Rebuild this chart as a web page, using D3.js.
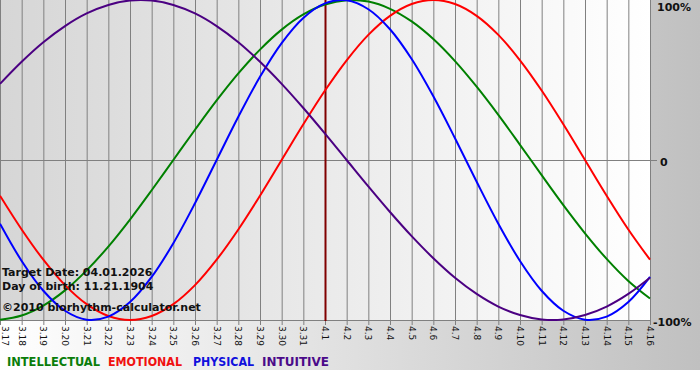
<!DOCTYPE html>
<html><head><meta charset="utf-8">
<script src="https://cdn.jsdelivr.net/npm/d3@7"></script>
<style>body{margin:0;background:#fff}svg{display:block}</style>
</head><body>
<svg id="c" width="700" height="380"></svg>
<script>
const days = ["3.17","3.18","3.19","3.20","3.21","3.22","3.23","3.24","3.25","3.26","3.27","3.28","3.29","3.30","3.31","4.1","4.2","4.3","4.4","4.5","4.6","4.7","4.8","4.9","4.10","4.11","4.12","4.13","4.14","4.15","4.16"];
const intellectual = [-0.999,-0.972,-0.910,-0.815,-0.690,-0.541,-0.372,-0.189,0,0.189,0.372,0.541,0.690,0.815,0.910,0.972,0.999,0.990,0.945,0.866,0.756,0.618,0.458,0.282,0.095,-0.095,-0.282,-0.458,-0.618,-0.756,-0.866];
const emotional = [-0.223,-0.434,-0.623,-0.782,-0.901,-0.975,-1,-0.975,-0.901,-0.782,-0.623,-0.434,-0.223,0,0.223,0.434,0.623,0.782,0.901,0.975,1,0.975,0.901,0.782,0.623,0.434,0.223,0,-0.223,-0.434,-0.623];
const physical = [-0.398,-0.631,-0.817,-0.942,-0.998,-0.979,-0.888,-0.731,-0.520,-0.270,0,0.270,0.520,0.731,0.888,0.979,0.998,0.942,0.817,0.631,0.398,0.136,-0.136,-0.398,-0.631,-0.817,-0.942,-0.998,-0.979,-0.888,-0.731];
const intuitive = [0.476,0.614,0.736,0.837,0.916,0.969,0.997,0.997,0.969,0.916,0.837,0.736,0.614,0.476,0.325,0.165,0,-0.165,-0.325,-0.476,-0.614,-0.736,-0.837,-0.916,-0.969,-0.997,-0.997,-0.969,-0.916,-0.837,-0.736];
const yLabels = ["100%","0","-100%"];
const yLabelValues = [1,0,-1];
const legendNames = ["INTELLECTUAL","EMOTIONAL","PHYSICAL","INTUITIVE"];
const targetDay = "4.1";
const infoLines = ["Target Date: 04.01.2026","Day of birth: 11.21.1904","©2010 biorhythm-calculator.net"];

const series = [
  {values:intellectual, color:"#008000", text:"#0a7d0a"},
  {values:emotional, color:"#ff0000", text:"#f01010"},
  {values:physical, color:"#0000ff", text:"#1010dd"},
  {values:intuitive, color:"#4b0082", text:"#4b0a8a"}
];
const legendLayout = [[7,93],[108,74],[193,61],[262,67]];

const svg = d3.select("#c");
const defs = svg.append("defs");
const g1 = defs.append("linearGradient").attr("id","outer").attr("x1","0").attr("x2","1").attr("y1","0").attr("y2","0");
g1.append("stop").attr("offset","0").attr("stop-color","#ffffff");
g1.append("stop").attr("offset","1").attr("stop-color","#c0c0c0");
const g2 = defs.append("linearGradient").attr("id","inner").attr("x1","0").attr("x2","1").attr("y1","0").attr("y2","0");
g2.append("stop").attr("offset","0").attr("stop-color","#d6d6d6");
g2.append("stop").attr("offset","1").attr("stop-color","#ffffff");
defs.append("clipPath").attr("id","clip").append("rect").attr("x",0).attr("y",0).attr("width",651).attr("height",321);

svg.append("rect").attr("x",0).attr("y",0).attr("width",700).attr("height",370).attr("fill","url(#outer)");

const x = d3.scalePoint().domain(days).range([0,650]);
const y = d3.scaleLinear().domain([-1,1]).range([320,0]);

svg.append("rect").attr("x",0).attr("y",0).attr("width",651).attr("height",321).attr("fill","url(#inner)");

// vertical grid
svg.append("g").selectAll("line").data(days).join("line")
  .attr("x1",d=>x(d)+0.5).attr("x2",d=>x(d)+0.5).attr("y1",0).attr("y2",325)
  .attr("stroke","#808080").attr("stroke-width",1);
// horizontal lines
svg.append("line").attr("x1",0).attr("x2",657).attr("y1",y(0)+0.5).attr("y2",y(0)+0.5).attr("stroke","#808080");
svg.append("line").attr("x1",0).attr("x2",651).attr("y1",y(-1)+0.5).attr("y2",y(-1)+0.5).attr("stroke","#808080");

// target line
svg.append("line").attr("x1",x(targetDay)+0.5).attr("x2",x(targetDay)+0.5).attr("y1",0).attr("y2",321)
  .attr("stroke","#800000").attr("stroke-width",2);

// curves
const line = d3.line().x((d,i)=>x(days[i])).y(d=>y(d)).curve(d3.curveCatmullRom);
const cg = svg.append("g").attr("clip-path","url(#clip)");
series.forEach(s=>{
  cg.append("path").attr("d",line(s.values)).attr("fill","none").attr("stroke",s.color).attr("stroke-width",2);
});

// x labels
svg.append("g").selectAll("text").data(days).join("text")
  .attr("transform",d=>`translate(${Math.max(x(d)-3,2)},326) rotate(90)`)
  .attr("font-family","DejaVu Sans, Verdana, sans-serif").attr("font-size",9).attr("fill","#111")
  .text(d=>d);

// y labels
svg.append("g").selectAll("text").data(yLabelValues).join("text")
  .attr("x",(d,i)=>[657,660,653][i]).attr("y",(d,i)=>[11,166,326][i])
  .attr("font-family","DejaVu Sans, Verdana, sans-serif").attr("font-weight","bold").attr("font-size",11).attr("fill","#111")
  .text((d,i)=>yLabels[i]);

// info text
svg.append("g").selectAll("text").data(infoLines).join("text")
  .attr("x",2).attr("y",(d,i)=>[276,290,311][i])
  .attr("font-family","DejaVu Sans, Verdana, sans-serif").attr("font-weight","bold").attr("font-size",11).attr("fill","#111")
  .text(d=>d);

// legend
svg.append("g").selectAll("text").data(series).join("text")
  .attr("x",(d,i)=>legendLayout[i][0]).attr("y",366)
  .attr("textLength",(d,i)=>legendLayout[i][1]).attr("lengthAdjust","spacingAndGlyphs")
  .attr("font-family","DejaVu Sans, Verdana, sans-serif").attr("font-weight","bold").attr("font-size",12)
  .attr("fill",d=>d.text)
  .text((d,i)=>legendNames[i]);
</script>
</body></html>
